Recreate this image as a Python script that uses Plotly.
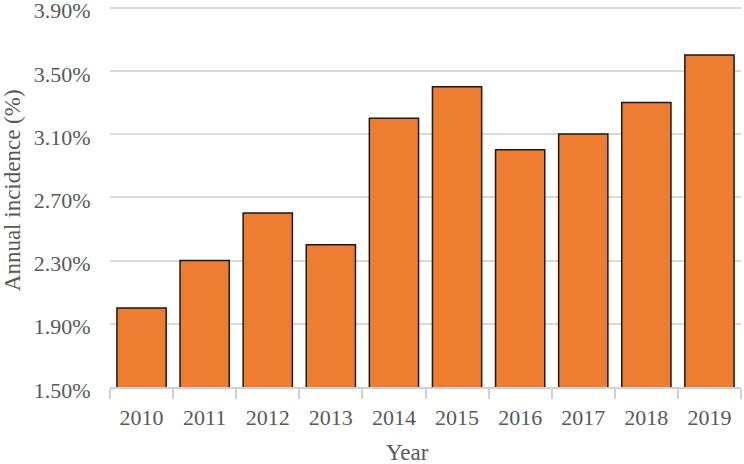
import plotly.graph_objects as go

years = ["2010", "2011", "2012", "2013", "2014", "2015", "2016", "2017", "2018", "2019"]
incidence = [2.00, 2.30, 2.60, 2.40, 3.20, 3.40, 3.00, 3.10, 3.30, 3.60]
y_ticks = [1.50, 1.90, 2.30, 2.70, 3.10, 3.50, 3.90]
y_tick_labels = ["1.50%", "1.90%", "2.30%", "2.70%", "3.10%", "3.50%", "3.90%"]

font = dict(family="Liberation Serif", size=22, color="#595959")
title_font = dict(family="Liberation Serif", size=23, color="#595959")

fig = go.Figure(go.Bar(
    x=years, y=incidence,
    marker=dict(color="#ED7D31", line=dict(color="#1a1a1a", width=1.5)),
))

fig.update_layout(
    width=744, height=464,
    margin=dict(l=110, r=3, t=6, b=77),
    paper_bgcolor="white", plot_bgcolor="white",
    bargap=0.22,
    showlegend=False,
    font=font,
)
fig.update_xaxes(
    type="category",
    tickson="boundaries",
    ticks="outside", ticklen=10, tickcolor="#d0d0d0", tickwidth=1.5,
    ticklabelstandoff=10,
    showline=True, linecolor="#d0d0d0", linewidth=1.5,
    showgrid=False,
    automargin=False,
    tickfont=font,
)
fig.update_yaxes(
    range=[1.50, 3.91],
    tickvals=y_ticks, ticktext=y_tick_labels,
    showgrid=True, gridcolor="#d9d9d9", gridwidth=1.5,
    zeroline=False, showline=False,
    ticks="outside", ticklen=14, tickcolor="rgba(0,0,0,0)",
    ticklabeloverflow="allow",
    ticklabelshift=3,
    automargin=False,
    tickfont=font,
)
fig.add_annotation(text="Year", xref="paper", yref="paper", x=0.4707, y=-0.173,
                   xanchor="center", yanchor="middle", showarrow=False, font=title_font)
fig.add_annotation(text="Annual incidence (%)", xref="paper", yref="paper", x=-0.155, y=0.517,
                   xanchor="center", yanchor="middle", textangle=-90, showarrow=False, font=title_font)

fig.write_html("out.html")
